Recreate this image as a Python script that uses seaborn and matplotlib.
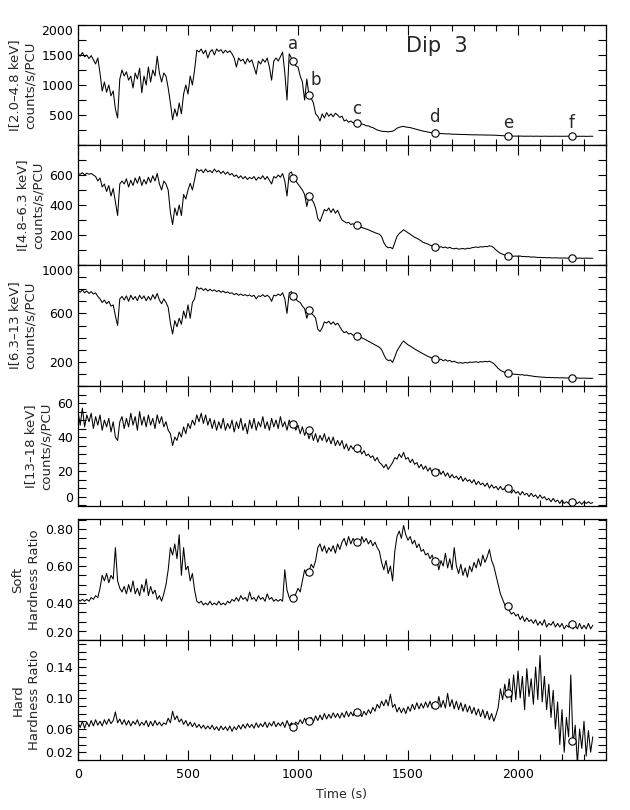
import numpy as np
import pandas as pd
import seaborn as sns
import matplotlib.pyplot as plt
from matplotlib.ticker import MultipleLocator, FixedLocator, FormatStrFormatter

# time bins of the light curves (s)
time_s = np.arange(0, 2341, 10)

# I[2.0-4.8 keV] counts/s/PCU
rate_soft = [
    1520, 1480, 1540, 1470, 1500, 1440, 1490, 1420, 1350, 1450, 1200, 900, 1050, 880, 1000, 820, 900, 600, 450, 1100,
    1250, 1150, 1220, 1080, 1150, 950, 1200, 1100, 1280, 870, 1150, 1000, 1300, 1050, 1250, 1150, 1480, 1200, 1050, 1200,
    1150, 950, 700, 420, 600, 480, 700, 520, 850, 1000, 850, 1150, 1000, 1250, 1580, 1550, 1600, 1520, 1580, 1450,
    1550, 1590, 1500, 1600, 1560, 1590, 1530, 1580, 1540, 1570, 1520, 1450, 1300, 1450, 1400, 1430, 1350, 1440, 1380, 1420,
    1300, 1180, 1400, 1350, 1430, 1380, 1450, 1300, 1080, 1400, 1450, 1400, 1470, 1550, 1200, 750, 1520, 1450, 1380, 1320,
    1300, 1150, 1050, 750, 1100, 830, 780, 700, 520, 480, 400, 520, 450, 540, 480, 520, 470, 530, 500, 460,
    480, 400, 420, 380, 400, 370, 380, 370, 360, 350, 340, 320, 320, 300, 290, 270, 250, 240, 230, 225,
    225, 220, 225, 230, 250, 280, 295, 305, 310, 300, 295, 290, 280, 270, 260, 250, 240, 230, 225, 215,
    210, 205, 200, 195, 195, 190, 190, 185, 185, 185, 180, 180, 178, 178, 175, 175, 175, 172, 172, 170,
    170, 170, 168, 168, 168, 166, 166, 165, 165, 164, 162, 160, 158, 155, 152, 150, 150, 150, 148, 148,
    148, 147, 148, 146, 147, 146, 148, 145, 147, 146, 146, 145, 147, 146, 145, 146, 145, 147, 145, 146,
    146, 145, 147, 145, 146, 145, 146, 144, 146, 145, 146, 144, 145, 146, 145,
]

# I[4.8-6.3 keV]
rate_mid = [
    610, 605, 615, 600, 612, 605, 610, 600, 590, 560, 580, 520, 540, 490, 530, 460, 510, 420, 330, 540,
    560, 540, 575, 520, 565, 530, 580, 545, 590, 530, 570, 540, 585, 550, 595, 560, 610, 540, 500, 560,
    540, 500, 350, 270, 380, 330, 400, 330, 470, 440, 500, 545, 500, 570, 640, 625, 635, 615, 640, 620,
    630, 615, 640, 620, 630, 610, 625, 605, 620, 600, 610, 590, 600, 580, 595, 575, 590, 570, 585, 575,
    590, 565, 585, 575, 595, 570, 590, 565, 540, 590, 580, 600, 585, 610, 560, 460, 610, 620, 580, 560,
    540, 520, 500, 470, 390, 460, 440, 420, 380, 310, 290, 330, 370, 360, 380, 350, 375, 345, 365, 330,
    300, 290, 280, 285, 270, 275, 265, 262, 258, 250, 245, 240, 235, 228, 222, 215, 210, 205, 190, 150,
    125, 115, 118, 108, 150, 190, 210, 222, 235, 225, 215, 205, 195, 185, 178, 170, 160, 150, 145, 140,
    132, 128, 123, 125, 118, 122, 115, 120, 112, 118, 110, 108, 112, 105, 108, 110, 106, 112, 110, 115,
    118, 120, 117, 122, 120, 124, 122, 128, 125, 115, 100, 88, 78, 72, 66, 62, 60, 62, 58, 60,
    58, 60, 56, 57, 55, 56, 52, 54, 52, 50, 51, 49, 50, 48, 49, 48, 47, 48, 47, 47,
    46, 47, 46, 46, 46, 45, 46, 45, 46, 45, 45, 46, 45, 45, 45,
]

# I[6.3-13 keV]
rate_hard = [
    790, 775, 795, 770, 785, 765, 780, 760, 770, 740, 720, 690, 710, 680, 700, 660, 670, 580, 500, 720,
    740, 710, 745, 700, 750, 715, 740, 705, 750, 720, 745, 705, 740, 710, 755, 720, 765, 710, 680, 720,
    690, 650, 520, 430, 540, 490, 560, 510, 620, 560, 670, 560, 690, 720, 820, 800, 810, 790, 805, 785,
    800, 785, 795, 780, 790, 775, 785, 770, 778, 765, 770, 755, 765, 750, 760, 748, 755, 745, 752, 740,
    750, 720, 745, 740, 755, 738, 750, 735, 700, 750, 745, 760, 748, 770, 720, 600, 770, 780, 740, 720,
    700, 690, 660, 640, 560, 620, 600, 585, 560, 470, 450, 480, 530, 520, 535, 510, 530, 505, 520, 490,
    460, 440, 450, 430, 435, 420, 418, 415, 405, 398, 390, 380, 370, 360, 350, 340, 330, 320, 300, 260,
    225, 210, 215, 195, 240, 290, 320, 350, 372, 355, 340, 330, 318, 305, 295, 285, 275, 265, 255, 245,
    238, 230, 224, 228, 215, 222, 208, 218, 205, 212, 198, 205, 195, 190, 193, 188, 195, 190, 198, 195,
    198, 200, 195, 202, 198, 204, 200, 205, 196, 185, 165, 145, 130, 120, 112, 108, 105, 100, 98, 96,
    95, 92, 94, 88, 90, 85, 84, 80, 78, 76, 75, 73, 72, 70, 71, 69, 70, 68, 69, 67,
    68, 67, 66, 67, 66, 67, 65, 66, 65, 64, 65, 64, 64, 63, 64,
]

# I[13-18 keV]
rate_top = [
    55, 47, 57, 46, 53, 49, 54, 45, 52, 47, 53, 44, 50, 46, 51, 43, 49, 40, 38, 49,
    52, 45, 51, 46, 54, 47, 52, 44, 55, 47, 52, 46, 53, 47, 51, 45, 53, 48, 52, 46,
    49, 44, 42, 35, 40, 38, 43, 40, 46, 42, 48, 45, 50, 47, 53, 49, 54, 48, 53, 47,
    51, 45, 50, 44, 49, 45, 51, 44, 48, 45, 50, 43, 49, 45, 51, 44, 48, 42, 50, 45,
    51, 44, 49, 46, 52, 45, 49, 44, 51, 46, 50, 45, 52, 46, 49, 44, 50, 46, 48, 44,
    47, 42, 46, 41, 44, 39, 43, 38, 42, 37, 41, 38, 42, 37, 40, 36, 40, 35, 38, 35,
    38, 33, 36, 32, 35, 33, 34, 31, 33, 30, 32, 29, 30, 28, 29, 26, 28, 25, 24, 22,
    24, 21, 23, 25, 28, 27, 30, 28, 31, 27, 28, 25, 27, 24, 25, 22, 24, 21, 23, 20,
    22, 19, 21, 18, 21, 18, 20, 17, 19, 16, 18, 16, 17, 15, 17, 14, 16, 14, 15, 13,
    15, 12, 14, 12, 13, 11, 13, 10, 12, 10, 11, 9, 11, 9, 10, 8, 10, 7, 9, 7,
    8, 6, 8, 6, 7, 5, 7, 5, 6, 4, 6, 4, 5, 3, 4, 2, 4, 2, 3, 1,
    3, 1, 2, 1, 2, 0.5, 2, 1, 2, 0.5, 2, 1, 2, 1, 1.5,
]

# soft hardness ratio
hr_soft = [
    0.42, 0.41, 0.42, 0.41, 0.42, 0.41, 0.43, 0.42, 0.44, 0.43, 0.48, 0.55, 0.52, 0.56, 0.51, 0.55, 0.53, 0.70, 0.52, 0.48,
    0.46, 0.49, 0.45, 0.50, 0.46, 0.52, 0.45, 0.48, 0.44, 0.50, 0.46, 0.53, 0.44, 0.49, 0.45, 0.47, 0.42, 0.44, 0.41, 0.45,
    0.50, 0.58, 0.70, 0.66, 0.72, 0.64, 0.77, 0.55, 0.70, 0.58, 0.60, 0.52, 0.56, 0.47, 0.41, 0.40, 0.41, 0.39, 0.40, 0.39,
    0.41, 0.39, 0.40, 0.39, 0.41, 0.39, 0.40, 0.39, 0.41, 0.40, 0.42, 0.41, 0.43, 0.41, 0.44, 0.42, 0.43, 0.41, 0.46, 0.42,
    0.43, 0.41, 0.44, 0.42, 0.43, 0.41, 0.45, 0.42, 0.43, 0.41, 0.42, 0.41, 0.42, 0.41, 0.58, 0.47, 0.43, 0.42, 0.43, 0.45,
    0.48, 0.46, 0.52, 0.58, 0.55, 0.57, 0.61, 0.59, 0.63, 0.70, 0.72, 0.68, 0.71, 0.67, 0.70, 0.68, 0.71, 0.67, 0.72, 0.69,
    0.73, 0.75, 0.71, 0.76, 0.72, 0.75, 0.73, 0.74, 0.71, 0.76, 0.73, 0.75, 0.72, 0.74, 0.71, 0.73, 0.70, 0.68, 0.62, 0.58,
    0.63, 0.56, 0.60, 0.52, 0.68, 0.76, 0.79, 0.75, 0.82, 0.77, 0.74, 0.76, 0.72, 0.74, 0.70, 0.72, 0.68, 0.69, 0.66, 0.67,
    0.64, 0.66, 0.62, 0.64, 0.58, 0.63, 0.60, 0.67, 0.59, 0.64, 0.58, 0.70, 0.60, 0.56, 0.61, 0.55, 0.59, 0.54, 0.60, 0.57,
    0.62, 0.59, 0.64, 0.60, 0.66, 0.62, 0.65, 0.69, 0.63, 0.60, 0.55, 0.50, 0.45, 0.42, 0.39, 0.38, 0.36, 0.34, 0.35, 0.33,
    0.34, 0.31, 0.33, 0.30, 0.32, 0.30, 0.31, 0.29, 0.31, 0.28, 0.30, 0.28, 0.31, 0.27, 0.29, 0.28, 0.30, 0.27, 0.29, 0.27,
    0.29, 0.26, 0.28, 0.27, 0.29, 0.26, 0.28, 0.26, 0.29, 0.26, 0.28, 0.26, 0.29, 0.26, 0.28,
]

# hard hardness ratio
hr_hard = [
    0.068, 0.062, 0.070, 0.061, 0.069, 0.063, 0.071, 0.064, 0.072, 0.065, 0.070, 0.064, 0.072, 0.066, 0.073, 0.067, 0.071, 0.082, 0.068, 0.073,
    0.066, 0.072, 0.065, 0.071, 0.064, 0.070, 0.066, 0.072, 0.064, 0.069, 0.065, 0.071, 0.063, 0.070, 0.064, 0.071, 0.065, 0.069, 0.064, 0.068,
    0.066, 0.074, 0.068, 0.083, 0.072, 0.077, 0.069, 0.073, 0.066, 0.071, 0.064, 0.069, 0.063, 0.068, 0.062, 0.066, 0.061, 0.065, 0.060, 0.064,
    0.060, 0.065, 0.059, 0.063, 0.058, 0.064, 0.059, 0.063, 0.058, 0.064, 0.057, 0.063, 0.059, 0.065, 0.060, 0.066, 0.061, 0.067, 0.062, 0.066,
    0.061, 0.068, 0.062, 0.067, 0.063, 0.069, 0.062, 0.068, 0.064, 0.070, 0.063, 0.068, 0.064, 0.069, 0.062, 0.071, 0.064, 0.068, 0.063, 0.069,
    0.066, 0.072, 0.067, 0.074, 0.068, 0.071, 0.075, 0.069, 0.077, 0.071, 0.078, 0.072, 0.080, 0.073, 0.079, 0.074, 0.081, 0.075, 0.080, 0.074,
    0.081, 0.075, 0.083, 0.076, 0.082, 0.077, 0.084, 0.078, 0.082, 0.076, 0.083, 0.078, 0.085, 0.080, 0.088, 0.083, 0.092, 0.087, 0.096, 0.090,
    0.098, 0.090, 0.105, 0.088, 0.092, 0.082, 0.088, 0.081, 0.087, 0.080, 0.089, 0.083, 0.092, 0.085, 0.094, 0.086, 0.093, 0.087, 0.095, 0.088,
    0.096, 0.087, 0.094, 0.086, 0.102, 0.088, 0.097, 0.087, 0.106, 0.089, 0.098, 0.086, 0.096, 0.085, 0.094, 0.083, 0.092, 0.082, 0.090, 0.080,
    0.088, 0.078, 0.086, 0.076, 0.085, 0.074, 0.083, 0.072, 0.080, 0.070, 0.078, 0.088, 0.112, 0.098, 0.118, 0.100, 0.125, 0.095, 0.130, 0.098,
    0.135, 0.100, 0.128, 0.085, 0.138, 0.102, 0.125, 0.092, 0.140, 0.098, 0.155, 0.095, 0.128, 0.085, 0.118, 0.075, 0.110, 0.060, 0.095, 0.040,
    0.085, 0.030, 0.075, 0.050, 0.130, 0.040, 0.065, 0.015, 0.060, 0.035, 0.070, 0.025, 0.058, 0.030, 0.050,
]

# selected points a-f
mark_t = [979, 1049, 1268, 1621, 1955, 2245]
mark_labels = ["a", "b", "c", "d", "e", "f"]
mark_soft = [1400, 833, 367, 200, 150, 150]
mark_mid = [579, 461, 264, 123, 61, 46]
mark_hard = [741, 624, 415, 224, 108, 67]
mark_top = [47.5, 44, 33.7, 19.6, 10.2, 1.8]
mark_hrs = [0.427, 0.567, 0.729, 0.627, 0.382, 0.285]
mark_hrh = [0.063, 0.070, 0.082, 0.091, 0.107, 0.045]
label_y = [1680, 1090, 600, 470, 370, 370]

ylabels = ["I[2.0\u20134.8 keV]\ncounts/s/PCU", "I[4.8\u20136.3 keV]\ncounts/s/PCU",
           "I[6.3\u201313 keV]\ncounts/s/PCU", "I[13\u201318 keV]\ncounts/s/PCU",
           "Soft\nHardness Ratio", "Hard\nHardness Ratio"]

sns.set_style("ticks")
plt.rcParams['font.family'] = ['DejaVu Sans']

fig = plt.figure(figsize=(6.3, 8.1), dpi=100)

# pixel rows of the six panels (top, bottom)
rows = [(25, 145), (145, 265), (265, 386), (386, 506), (519, 640), (640, 760)]
panels = [
    (rate_soft, mark_soft, (0, 2000), [500, 1000, 1500, 2000], 250, "%d"),
    (rate_mid, mark_mid, (0, 800), [200, 400, 600], 100, "%d"),
    (rate_hard, mark_hard, (0, 1000), [200, 600, 1000], 100, "%d"),
    (rate_top, mark_top, (-0.5, 70), [0, 20, 40, 60], 5, "%d"),
    (hr_soft, mark_hrs, (0.2, 0.855), [0.2, 0.4, 0.6, 0.8], 0.05, "%.2f"),
    (hr_hard, mark_hrh, (0.02, 0.175), [0.02, 0.06, 0.10, 0.14], 0.01, "%.2f"),
]

axes = []
for i, (vals, mvals, ylim, yt, ymin, fmt) in enumerate(panels):
    top, bot = rows[i]
    ax = fig.add_axes([78 / 630, 1 - bot / 810, 528 / 630, (bot - top) / 810])
    df = pd.DataFrame({"time": time_s, "value": vals})
    sns.lineplot(data=df, x="time", y="value", ax=ax, color="black",
                 lw=0.75, estimator=None)
    sns.scatterplot(x=mark_t, y=mvals, ax=ax, s=28, facecolor="white",
                    edgecolor="black", linewidth=0.8, zorder=3)
    ax.set_xlim(0, 2400)
    ax.set_ylim(*ylim)
    ax.xaxis.set_major_locator(MultipleLocator(500))
    ax.xaxis.set_minor_locator(MultipleLocator(100))
    ax.yaxis.set_major_locator(FixedLocator(yt))
    ax.yaxis.set_minor_locator(MultipleLocator(ymin))
    ax.yaxis.set_major_formatter(FormatStrFormatter(fmt))
    ax.tick_params(which="both", direction="in", top=True, right=True,
                   width=0.8, labelsize=9, colors="black")
    ax.tick_params(axis="x", which="major", length=7, pad=6)
    ax.tick_params(axis="x", which="minor", length=4)
    ax.tick_params(axis="y", which="both", length=6)
    for s in ax.spines.values():
        s.set_linewidth(0.9)
        s.set_color("black")
    ax.set_ylabel(ylabels[i], fontsize=9.5, linespacing=1.35, labelpad=3)
    if i < 5:
        ax.set_xticklabels([])
        ax.set_xlabel("")
    axes.append(ax)

# keep the edge labels inside the frame, like the original
axes[0].yaxis.get_major_ticks()[-1].label1.set_verticalalignment("top")
axes[2].yaxis.get_major_ticks()[-1].label1.set_verticalalignment("top")
axes[3].yaxis.get_major_ticks()[0].label1.set_verticalalignment("bottom")
axes[4].yaxis.get_major_ticks()[0].label1.set_verticalalignment("bottom")
axes[5].yaxis.get_major_ticks()[0].label1.set_verticalalignment("bottom")

ax0 = axes[0]
for t, ly, lab in zip(mark_t, label_y, mark_labels):
    dx = 30 if lab == "b" else 0
    ax0.text(t + dx, ly, lab, ha="center", va="center", fontsize=12)
ax0.text(1630, 1650, "Dip  3", ha="center", va="center", fontsize=15)

axes[5].set_xlabel("Time (s)", fontsize=9, labelpad=5)

fig.savefig("out.png", dpi=100)
